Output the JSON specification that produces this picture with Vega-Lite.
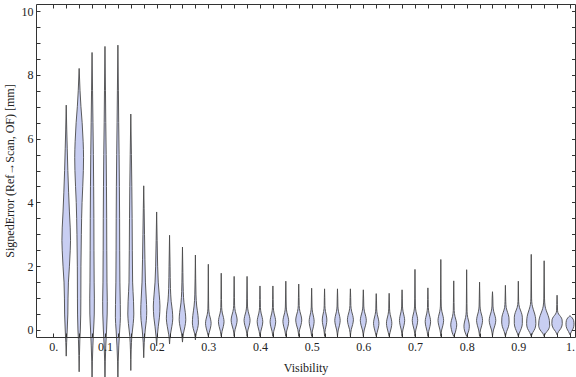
{
"$schema":"https://vega.github.io/schema/vega-lite/v6.json",
"width":539,"height":333,
"autosize":{"type":"none"},
"padding":{"left":36,"top":4,"right":1,"bottom":40},
"background":"white",
"config":{"view":{"stroke":null},"font":"Liberation Serif"},
"data":{"values":[
{"v":0.025,"e":-0.82,"d":0},{"v":0.025,"e":-0.4,"d":0.4},{"v":0.025,"e":0,"d":1.0},{"v":0.025,"e":0.5,"d":1.6},{"v":0.025,"e":1.0,"d":1.8},{"v":0.025,"e":1.5,"d":2.2},{"v":0.025,"e":2.0,"d":3.2},{"v":0.025,"e":2.5,"d":4.0},{"v":0.025,"e":2.8,"d":4.3},{"v":0.025,"e":3.2,"d":4.0},{"v":0.025,"e":3.7,"d":3.2},{"v":0.025,"e":4.3,"d":2.4},{"v":0.025,"e":5.0,"d":1.6},{"v":0.025,"e":5.7,"d":1.0},{"v":0.025,"e":6.3,"d":0.5},{"v":0.025,"e":7.05,"d":0},
{"v":0.05,"e":-1.31,"d":0},{"v":0.05,"e":-0.8,"d":0.3},{"v":0.05,"e":-0.3,"d":0.7},{"v":0.05,"e":0,"d":1.2},{"v":0.05,"e":0.5,"d":1.6},{"v":0.05,"e":1.0,"d":1.7},{"v":0.05,"e":2.0,"d":1.8},{"v":0.05,"e":3.0,"d":2.2},{"v":0.05,"e":4.0,"d":2.9},{"v":0.05,"e":4.5,"d":3.6},{"v":0.05,"e":5.0,"d":4.2},{"v":0.05,"e":5.4,"d":4.4},{"v":0.05,"e":5.9,"d":4.0},{"v":0.05,"e":6.5,"d":3.0},{"v":0.05,"e":7.0,"d":1.8},{"v":0.05,"e":7.5,"d":0.9},{"v":0.05,"e":8.2,"d":0},
{"v":0.075,"e":-1.6,"d":0},{"v":0.075,"e":-1.0,"d":0.3},{"v":0.075,"e":-0.5,"d":0.8},{"v":0.075,"e":0,"d":1.5},{"v":0.075,"e":0.5,"d":2.2},{"v":0.075,"e":1.0,"d":2.3},{"v":0.075,"e":1.5,"d":2.1},{"v":0.075,"e":2.5,"d":1.9},{"v":0.075,"e":3.5,"d":1.8},{"v":0.075,"e":4.5,"d":1.6},{"v":0.075,"e":5.5,"d":1.3},{"v":0.075,"e":6.5,"d":0.9},{"v":0.075,"e":7.5,"d":0.5},{"v":0.075,"e":8.7,"d":0},
{"v":0.1,"e":-1.6,"d":0},{"v":0.1,"e":-1.0,"d":0.3},{"v":0.1,"e":-0.5,"d":0.8},{"v":0.1,"e":0,"d":1.6},{"v":0.1,"e":0.5,"d":2.2},{"v":0.1,"e":0.9,"d":2.3},{"v":0.1,"e":1.5,"d":2.0},{"v":0.1,"e":2.5,"d":1.8},{"v":0.1,"e":3.5,"d":1.7},{"v":0.1,"e":4.5,"d":1.5},{"v":0.1,"e":5.5,"d":1.2},{"v":0.1,"e":6.5,"d":0.8},{"v":0.1,"e":7.5,"d":0.5},{"v":0.1,"e":8.89,"d":0},
{"v":0.125,"e":-1.6,"d":0},{"v":0.125,"e":-1.0,"d":0.3},{"v":0.125,"e":-0.5,"d":0.9},{"v":0.125,"e":0,"d":1.8},{"v":0.125,"e":0.4,"d":2.5},{"v":0.125,"e":0.8,"d":2.4},{"v":0.125,"e":1.5,"d":2.0},{"v":0.125,"e":2.5,"d":1.8},{"v":0.125,"e":3.5,"d":1.7},{"v":0.125,"e":4.5,"d":1.5},{"v":0.125,"e":5.5,"d":1.2},{"v":0.125,"e":6.5,"d":0.8},{"v":0.125,"e":7.5,"d":0.5},{"v":0.125,"e":8.93,"d":0},
{"v":0.15,"e":-1.27,"d":0},{"v":0.15,"e":-0.6,"d":0.4},{"v":0.15,"e":-0.2,"d":1.0},{"v":0.15,"e":0.2,"d":2.4},{"v":0.15,"e":0.5,"d":3.0},{"v":0.15,"e":0.9,"d":2.7},{"v":0.15,"e":1.5,"d":1.8},{"v":0.15,"e":2.5,"d":1.5},{"v":0.15,"e":3.5,"d":1.3},{"v":0.15,"e":4.5,"d":1.0},{"v":0.15,"e":5.5,"d":0.6},{"v":0.15,"e":6.77,"d":0},
{"v":0.175,"e":-0.87,"d":0},{"v":0.175,"e":-0.4,"d":0.5},{"v":0.175,"e":0,"d":1.5},{"v":0.175,"e":0.3,"d":2.6},{"v":0.175,"e":0.6,"d":3.0},{"v":0.175,"e":1.0,"d":2.5},{"v":0.175,"e":1.5,"d":1.7},{"v":0.175,"e":2.2,"d":1.2},{"v":0.175,"e":3.0,"d":0.8},{"v":0.175,"e":3.8,"d":0.4},{"v":0.175,"e":4.52,"d":0},
{"v":0.2,"e":-0.5,"d":0},{"v":0.2,"e":-0.2,"d":0.6},{"v":0.2,"e":0.1,"d":1.6},{"v":0.2,"e":0.4,"d":2.8},{"v":0.2,"e":0.75,"d":3.3},{"v":0.2,"e":1.1,"d":2.6},{"v":0.2,"e":1.5,"d":1.6},{"v":0.2,"e":2.0,"d":1.0},{"v":0.2,"e":2.8,"d":0.5},{"v":0.2,"e":3.7,"d":0},
{"v":0.225,"e":-0.44,"d":0},{"v":0.225,"e":-0.15,"d":0.8},{"v":0.225,"e":0.1,"d":2.2},{"v":0.225,"e":0.35,"d":3.2},{"v":0.225,"e":0.6,"d":2.8},{"v":0.225,"e":0.9,"d":1.6},{"v":0.225,"e":1.3,"d":0.9},{"v":0.225,"e":2.0,"d":0.5},{"v":0.225,"e":2.97,"d":0},
{"v":0.25,"e":-0.38,"d":0},{"v":0.25,"e":-0.1,"d":1.0},{"v":0.25,"e":0.1,"d":2.4},{"v":0.25,"e":0.32,"d":3.3},{"v":0.25,"e":0.55,"d":2.8},{"v":0.25,"e":0.85,"d":1.5},{"v":0.25,"e":1.2,"d":0.8},{"v":0.25,"e":1.8,"d":0.4},{"v":0.25,"e":2.6,"d":0},
{"v":0.275,"e":-0.31,"d":0},{"v":0.275,"e":-0.1,"d":0.9},{"v":0.275,"e":0.05,"d":2.2},{"v":0.275,"e":0.22,"d":3.0},{"v":0.275,"e":0.45,"d":2.6},{"v":0.275,"e":0.75,"d":1.3},{"v":0.275,"e":1.1,"d":0.6},{"v":0.275,"e":1.6,"d":0.3},{"v":0.275,"e":2.35,"d":0},
{"v":0.3,"e":-0.2,"d":0},{"v":0.3,"e":-0.09,"d":0.84},{"v":0.3,"e":0.06,"d":2.1},{"v":0.3,"e":0.21,"d":2.8},{"v":0.3,"e":0.34,"d":2.24},{"v":0.3,"e":0.48,"d":1.12},{"v":0.3,"e":0.66,"d":0.42},{"v":0.3,"e":0.91,"d":0.28},{"v":0.3,"e":2.06,"d":0},
{"v":0.325,"e":-0.2,"d":0},{"v":0.325,"e":-0.04,"d":0.84},{"v":0.325,"e":0.11,"d":2.1},{"v":0.325,"e":0.26,"d":2.8},{"v":0.325,"e":0.39,"d":2.24},{"v":0.325,"e":0.53,"d":1.12},{"v":0.325,"e":0.71,"d":0.42},{"v":0.325,"e":0.96,"d":0.28},{"v":0.325,"e":1.78,"d":0},
{"v":0.35,"e":-0.2,"d":0},{"v":0.35,"e":0.01,"d":0.9},{"v":0.35,"e":0.16,"d":2.25},{"v":0.35,"e":0.31,"d":3.0},{"v":0.35,"e":0.44,"d":2.4},{"v":0.35,"e":0.58,"d":1.2},{"v":0.35,"e":0.76,"d":0.45},{"v":0.35,"e":1.01,"d":0.3},{"v":0.35,"e":1.68,"d":0},
{"v":0.375,"e":-0.2,"d":0},{"v":0.375,"e":0,"d":0.9},{"v":0.375,"e":0.15,"d":2.25},{"v":0.375,"e":0.3,"d":3.0},{"v":0.375,"e":0.43,"d":2.4},{"v":0.375,"e":0.57,"d":1.2},{"v":0.375,"e":0.75,"d":0.45},{"v":0.375,"e":1.0,"d":0.3},{"v":0.375,"e":1.68,"d":0},
{"v":0.4,"e":-0.2,"d":0},{"v":0.4,"e":-0.04,"d":0.84},{"v":0.4,"e":0.11,"d":2.1},{"v":0.4,"e":0.26,"d":2.8},{"v":0.4,"e":0.39,"d":2.24},{"v":0.4,"e":0.53,"d":1.12},{"v":0.4,"e":0.71,"d":0.42},{"v":0.4,"e":0.96,"d":0.28},{"v":0.4,"e":1.38,"d":0},
{"v":0.425,"e":-0.2,"d":0},{"v":0.425,"e":-0.04,"d":0.84},{"v":0.425,"e":0.11,"d":2.1},{"v":0.425,"e":0.26,"d":2.8},{"v":0.425,"e":0.39,"d":2.24},{"v":0.425,"e":0.53,"d":1.12},{"v":0.425,"e":0.71,"d":0.42},{"v":0.425,"e":0.96,"d":0.28},{"v":0.425,"e":1.38,"d":0},
{"v":0.45,"e":-0.2,"d":0},{"v":0.45,"e":-0.03,"d":0.87},{"v":0.45,"e":0.12,"d":2.18},{"v":0.45,"e":0.27,"d":2.9},{"v":0.45,"e":0.4,"d":2.32},{"v":0.45,"e":0.54,"d":1.16},{"v":0.45,"e":0.72,"d":0.44},{"v":0.45,"e":0.97,"d":0.29},{"v":0.45,"e":1.53,"d":0},
{"v":0.475,"e":-0.2,"d":0},{"v":0.475,"e":0.01,"d":0.9},{"v":0.475,"e":0.16,"d":2.25},{"v":0.475,"e":0.31,"d":3.0},{"v":0.475,"e":0.44,"d":2.4},{"v":0.475,"e":0.58,"d":1.2},{"v":0.475,"e":0.76,"d":0.45},{"v":0.475,"e":1.01,"d":0.3},{"v":0.475,"e":1.44,"d":0},
{"v":0.5,"e":-0.2,"d":0},{"v":0.5,"e":-0.03,"d":0.75},{"v":0.5,"e":0.12,"d":1.88},{"v":0.5,"e":0.27,"d":2.5},{"v":0.5,"e":0.4,"d":2.0},{"v":0.5,"e":0.54,"d":1.0},{"v":0.5,"e":0.72,"d":0.38},{"v":0.5,"e":0.97,"d":0.25},{"v":0.5,"e":1.31,"d":0},
{"v":0.525,"e":-0.2,"d":0},{"v":0.525,"e":0.01,"d":0.69},{"v":0.525,"e":0.16,"d":1.73},{"v":0.525,"e":0.31,"d":2.3},{"v":0.525,"e":0.44,"d":1.84},{"v":0.525,"e":0.58,"d":0.92},{"v":0.525,"e":0.76,"d":0.35},{"v":0.525,"e":1.01,"d":0.23},{"v":0.525,"e":1.29,"d":0},
{"v":0.55,"e":-0.2,"d":0},{"v":0.55,"e":0,"d":0.81},{"v":0.55,"e":0.15,"d":2.03},{"v":0.55,"e":0.3,"d":2.7},{"v":0.55,"e":0.43,"d":2.16},{"v":0.55,"e":0.57,"d":1.08},{"v":0.55,"e":0.75,"d":0.41},{"v":0.55,"e":1.0,"d":0.27},{"v":0.55,"e":1.29,"d":0},
{"v":0.575,"e":-0.2,"d":0},{"v":0.575,"e":0.02,"d":0.9},{"v":0.575,"e":0.17,"d":2.25},{"v":0.575,"e":0.32,"d":3.0},{"v":0.575,"e":0.45,"d":2.4},{"v":0.575,"e":0.59,"d":1.2},{"v":0.575,"e":0.77,"d":0.45},{"v":0.575,"e":1.02,"d":0.3},{"v":0.575,"e":1.29,"d":0},
{"v":0.6,"e":-0.2,"d":0},{"v":0.6,"e":0,"d":0.9},{"v":0.6,"e":0.15,"d":2.25},{"v":0.6,"e":0.3,"d":3.0},{"v":0.6,"e":0.43,"d":2.4},{"v":0.6,"e":0.57,"d":1.2},{"v":0.6,"e":0.75,"d":0.45},{"v":0.6,"e":1.0,"d":0.3},{"v":0.6,"e":1.26,"d":0},
{"v":0.625,"e":-0.2,"d":0},{"v":0.625,"e":-0.09,"d":0.81},{"v":0.625,"e":0.06,"d":2.03},{"v":0.625,"e":0.21,"d":2.7},{"v":0.625,"e":0.34,"d":2.16},{"v":0.625,"e":0.48,"d":1.08},{"v":0.625,"e":0.66,"d":0.41},{"v":0.625,"e":0.91,"d":0.27},{"v":0.625,"e":1.14,"d":0},
{"v":0.65,"e":-0.2,"d":0},{"v":0.65,"e":-0.09,"d":0.81},{"v":0.65,"e":0.06,"d":2.03},{"v":0.65,"e":0.21,"d":2.7},{"v":0.65,"e":0.34,"d":2.16},{"v":0.65,"e":0.48,"d":1.08},{"v":0.65,"e":0.66,"d":0.41},{"v":0.65,"e":0.91,"d":0.27},{"v":0.65,"e":1.15,"d":0},
{"v":0.675,"e":-0.2,"d":0},{"v":0.675,"e":0,"d":0.78},{"v":0.675,"e":0.15,"d":1.95},{"v":0.675,"e":0.3,"d":2.6},{"v":0.675,"e":0.43,"d":2.08},{"v":0.675,"e":0.57,"d":1.04},{"v":0.675,"e":0.75,"d":0.39},{"v":0.675,"e":1.0,"d":0.26},{"v":0.675,"e":1.26,"d":0},
{"v":0.7,"e":-0.2,"d":0},{"v":0.7,"e":0,"d":0.81},{"v":0.7,"e":0.15,"d":2.03},{"v":0.7,"e":0.3,"d":2.7},{"v":0.7,"e":0.43,"d":2.16},{"v":0.7,"e":0.57,"d":1.08},{"v":0.7,"e":0.75,"d":0.41},{"v":0.7,"e":1.0,"d":0.27},{"v":0.7,"e":1.9,"d":0},
{"v":0.725,"e":-0.2,"d":0},{"v":0.725,"e":-0.04,"d":0.81},{"v":0.725,"e":0.11,"d":2.03},{"v":0.725,"e":0.26,"d":2.7},{"v":0.725,"e":0.39,"d":2.16},{"v":0.725,"e":0.53,"d":1.08},{"v":0.725,"e":0.71,"d":0.41},{"v":0.725,"e":0.96,"d":0.27},{"v":0.725,"e":1.32,"d":0},
{"v":0.75,"e":-0.2,"d":0},{"v":0.75,"e":0,"d":0.84},{"v":0.75,"e":0.15,"d":2.1},{"v":0.75,"e":0.3,"d":2.8},{"v":0.75,"e":0.43,"d":2.24},{"v":0.75,"e":0.57,"d":1.12},{"v":0.75,"e":0.75,"d":0.42},{"v":0.75,"e":1.0,"d":0.28},{"v":0.75,"e":2.21,"d":0},
{"v":0.775,"e":-0.2,"d":0},{"v":0.775,"e":-0.14,"d":0.9},{"v":0.775,"e":0.01,"d":2.25},{"v":0.775,"e":0.16,"d":3.0},{"v":0.775,"e":0.29,"d":2.4},{"v":0.775,"e":0.43,"d":1.2},{"v":0.775,"e":0.61,"d":0.45},{"v":0.775,"e":0.86,"d":0.3},{"v":0.775,"e":1.54,"d":0},
{"v":0.8,"e":-0.2,"d":0},{"v":0.8,"e":-0.13,"d":0.9},{"v":0.8,"e":-0.03,"d":2.03},{"v":0.8,"e":0.12,"d":2.7},{"v":0.8,"e":0.25,"d":2.16},{"v":0.8,"e":0.39,"d":1.08},{"v":0.8,"e":0.57,"d":0.41},{"v":0.8,"e":0.82,"d":0.27},{"v":0.8,"e":1.89,"d":0},
{"v":0.825,"e":-0.2,"d":0},{"v":0.825,"e":0,"d":0.9},{"v":0.825,"e":0.15,"d":2.25},{"v":0.825,"e":0.3,"d":3.0},{"v":0.825,"e":0.43,"d":2.4},{"v":0.825,"e":0.57,"d":1.2},{"v":0.825,"e":0.75,"d":0.45},{"v":0.825,"e":1.0,"d":0.3},{"v":0.825,"e":1.5,"d":0},
{"v":0.85,"e":-0.2,"d":0},{"v":0.85,"e":0,"d":0.99},{"v":0.85,"e":0.15,"d":2.48},{"v":0.85,"e":0.3,"d":3.3},{"v":0.85,"e":0.43,"d":2.64},{"v":0.85,"e":0.57,"d":1.32},{"v":0.85,"e":0.75,"d":0.5},{"v":0.85,"e":1.0,"d":0.33},{"v":0.85,"e":1.2,"d":0},
{"v":0.875,"e":-0.2,"d":0},{"v":0.875,"e":-0.05,"d":1.2},{"v":0.875,"e":0.1,"d":3.0},{"v":0.875,"e":0.25,"d":3.7},{"v":0.875,"e":0.4,"d":3.5},{"v":0.875,"e":0.55,"d":2.2},{"v":0.875,"e":0.7,"d":0.8},{"v":0.875,"e":0.9,"d":0.35},{"v":0.875,"e":1.4,"d":0},
{"v":0.9,"e":-0.2,"d":0},{"v":0.9,"e":-0.1,"d":1.0},{"v":0.9,"e":0.05,"d":3.0},{"v":0.9,"e":0.2,"d":4.0},{"v":0.9,"e":0.4,"d":4.0},{"v":0.9,"e":0.55,"d":3.0},{"v":0.9,"e":0.7,"d":1.2},{"v":0.9,"e":0.9,"d":0.3},{"v":0.9,"e":1.53,"d":0},
{"v":0.925,"e":-0.2,"d":0},{"v":0.925,"e":-0.08,"d":1.5},{"v":0.925,"e":0.05,"d":3.8},{"v":0.925,"e":0.2,"d":4.6},{"v":0.925,"e":0.35,"d":4.4},{"v":0.925,"e":0.5,"d":3.5},{"v":0.925,"e":0.65,"d":2.0},{"v":0.925,"e":0.8,"d":0.8},{"v":0.925,"e":1.0,"d":0.35},{"v":0.925,"e":2.37,"d":0},
{"v":0.95,"e":-0.2,"d":0},{"v":0.95,"e":-0.1,"d":1.5},{"v":0.95,"e":0,"d":4.0},{"v":0.95,"e":0.15,"d":5.5},{"v":0.95,"e":0.3,"d":5.2},{"v":0.95,"e":0.45,"d":4.0},{"v":0.95,"e":0.6,"d":2.2},{"v":0.95,"e":0.75,"d":0.9},{"v":0.95,"e":1.0,"d":0.35},{"v":0.95,"e":2.17,"d":0},
{"v":0.975,"e":-0.15,"d":0},{"v":0.975,"e":-0.05,"d":1.5},{"v":0.975,"e":0.05,"d":3.8},{"v":0.975,"e":0.2,"d":5.2},{"v":0.975,"e":0.32,"d":5.0},{"v":0.975,"e":0.42,"d":3.5},{"v":0.975,"e":0.5,"d":1.5},{"v":0.975,"e":0.6,"d":0.5},{"v":0.975,"e":0.8,"d":0.3},{"v":0.975,"e":1.09,"d":0},
{"v":1.0,"e":-0.15,"d":0},{"v":1.0,"e":-0.05,"d":1.5},{"v":1.0,"e":0.05,"d":3.2},{"v":1.0,"e":0.18,"d":4.0},{"v":1.0,"e":0.3,"d":3.6},{"v":1.0,"e":0.38,"d":2.2},{"v":1.0,"e":0.45,"d":0}
]},
"transform":[
{"calculate":"datum.v - datum.d*0.00194","as":"lo"},
{"calculate":"datum.v + datum.d*0.00194","as":"hi"}
],
"layer":[
{"mark":{"type":"area","orient":"horizontal","interpolate":"monotone","fill":"#c8cef2","fillOpacity":1,"stroke":"#4a4a4a","strokeWidth":1,"strokeOpacity":0.9},
 "encoding":{
  "x":{"field":"lo","type":"quantitative","scale":{"domain":[-0.0335,1.0097],"nice":false,"zero":false},
   "axis":{"orient":"bottom","title":"Visibility","values":[0,0.025,0.05,0.075,0.1,0.125,0.15,0.175,0.2,0.225,0.25,0.275,0.3,0.325,0.35,0.375,0.4,0.425,0.45,0.475,0.5,0.525,0.55,0.575,0.6,0.625,0.65,0.675,0.7,0.725,0.75,0.775,0.8,0.825,0.85,0.875,0.9,0.925,0.95,0.975,1],
    "labelExpr":"abs(datum.value*10 - round(datum.value*10)) < 0.000001 ? (datum.value == 0 ? '0.' : (datum.value == 1 ? '1.' : format(datum.value, '.1f'))) : ''",
    "tickSize":-4,"labelPadding":8,"labelFontSize":12,"labelFont":"Liberation Serif","labelColor":"#222","labelOverlap":false,"labelFlush":false,"labelBound":false,
    "domainColor":"#333","tickColor":"#333","grid":false,"titleFont":"Liberation Serif","titleFontSize":12,"titleFontWeight":"normal","titleColor":"#222","titlePadding":10,"zindex":1}},
  "x2":{"field":"hi"},
  "y":{"field":"e","type":"quantitative","scale":{"domain":[-0.22,10.22],"nice":false,"zero":false},
   "axis":{"orient":"left","title":"SignedError (Ref→Scan, OF) [mm]","values":[0,0.5,1,1.5,2,2.5,3,3.5,4,4.5,5,5.5,6,6.5,7,7.5,8,8.5,9,9.5,10],
    "labelExpr":"datum.value % 2 === 0 ? format(datum.value, 'd') : ''",
    "tickSize":-4,"labelPadding":7,"labelFontSize":12,"labelFont":"Liberation Serif","labelColor":"#222","labelOverlap":false,"labelFlush":false,"labelBound":false,
    "encode":{"ticks":{"update":{"x2":{"signal":"datum.value % 2 === 0 ? 4.5 : 2.5"}}}},
    "domainColor":"#333","tickColor":"#333","grid":false,"titleFont":"Liberation Serif","titleFontSize":12,"titleFontWeight":"normal","titleColor":"#222","titlePadding":5,"zindex":1}},
  "detail":{"field":"v","type":"nominal"}
 }},
{"mark":{"type":"area","orient":"horizontal","opacity":0},
 "encoding":{
  "x":{"field":"lo","type":"quantitative","scale":{"domain":[-0.0335,1.0097],"nice":false,"zero":false},
   "axis":{"orient":"top","title":null,"labels":false,"values":[0,0.025,0.05,0.075,0.1,0.125,0.15,0.175,0.2,0.225,0.25,0.275,0.3,0.325,0.35,0.375,0.4,0.425,0.45,0.475,0.5,0.525,0.55,0.575,0.6,0.625,0.65,0.675,0.7,0.725,0.75,0.775,0.8,0.825,0.85,0.875,0.9,0.925,0.95,0.975,1],
    "tickSize":-4,"domainColor":"#333","tickColor":"#333","grid":false,"zindex":1}},
  "x2":{"field":"hi"},
  "y":{"field":"e","type":"quantitative","scale":{"domain":[-0.22,10.22],"nice":false,"zero":false},
   "axis":{"orient":"right","title":null,"labels":false,"values":[0,0.5,1,1.5,2,2.5,3,3.5,4,4.5,5,5.5,6,6.5,7,7.5,8,8.5,9,9.5,10],
    "tickSize":-3.5,"domainColor":"#333","tickColor":"#333","grid":false,"zindex":1}},
  "detail":{"field":"v","type":"nominal"}
 }}
],
"resolve":{"axis":{"x":"independent","y":"independent"}}
}
